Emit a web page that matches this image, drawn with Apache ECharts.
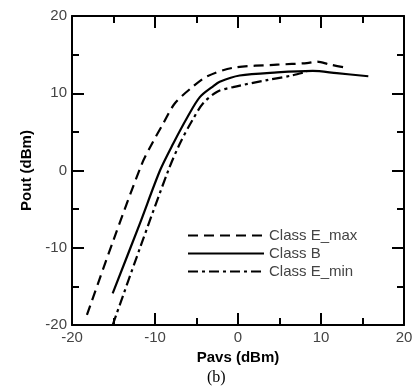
<!DOCTYPE html>
<html>
<head>
<meta charset="utf-8">
<script src="https://cdn.jsdelivr.net/npm/echarts@6/dist/echarts.min.js"></script>
<style>
  html, body { margin: 0; padding: 0; background: #fff; }
  #chart { width: 416px; height: 388px; }
</style>
</head>
<body>
<div id="chart"></div>
<script>
// Class E_max (dashed)
var emaxX = [-18.2, -15.0, -11.6, -10.3, -9.0, -7.6, -5.5, -3.7, -0.6, 4.7, 8.3, 9.5, 11.1, 13.1];
var emaxY = [-18.7, -9.0, 0.8, 3.6, 6.1, 8.7, 10.8, 12.2, 13.3, 13.7, 13.9, 14.1, 13.7, 13.3];
// Class B (solid)
var bX = [-15.1, -11.8, -9.4, -7.8, -6.1, -4.6, -3.0, -2.2, 0.2, 4.7, 9.0, 11.9, 15.7];
var bY = [-15.9, -6.8, 0.0, 3.5, 6.9, 9.5, 10.9, 11.5, 12.3, 12.7, 12.9, 12.6, 12.2];
// Class E_min (dash-dot)
var eminX = [-15.1, -11.8, -8.4, -7.0, -5.5, -4.2, -2.5, -0.6, 3.5, 6.5, 8.3];
var eminY = [-20.0, -10.0, 0.0, 3.5, 6.5, 8.7, 10.2, 10.8, 11.7, 12.3, 12.8];

var names = ['Class E_max', 'Class B', 'Class E_min'];

function pairs(xs, ys) {
  var out = [];
  for (var i = 0; i < xs.length; i++) out.push([xs[i], ys[i]]);
  return out;
}

var chart = echarts.init(document.getElementById('chart'));

var tickStyle = { color: '#000', width: 2 };
function axisBase(extra) {
  var a = {
    type: 'value', min: -20, max: 20, interval: 10,
    axisLine: { show: true, onZero: false, lineStyle: { color: '#000', width: 2 } },
    axisTick: { show: true, inside: true, length: 12, lineStyle: tickStyle },
    minorTick: { show: true, splitNumber: 2, length: 7, lineStyle: tickStyle },
    splitLine: { show: false },
    axisLabel: { color: '#444', fontSize: 15, fontFamily: 'Liberation Sans', margin: 5 }
  };
  for (var k in extra) a[k] = extra[k];
  return a;
}

var option = {
  animation: false,
  grid: { left: 72, right: 12, top: 16, bottom: 63 },
  title: {
    text: '(b)', left: 202, top: 365,
    textStyle: { fontFamily: 'Liberation Serif', fontWeight: 'normal', fontSize: 16, color: '#000' }
  },
  legend: {
    orient: 'vertical', left: 182, top: 223, itemGap: 3,
    itemWidth: 76, itemHeight: 14,
    data: names,
    itemStyle: { color: 'rgba(0,0,0,0)', borderWidth: 0 },
    textStyle: { color: '#444', fontSize: 15, fontFamily: 'Liberation Sans' }
  },
  xAxis: [
    axisBase({
      position: 'bottom',
      name: 'Pavs (dBm)', nameLocation: 'middle', nameGap: 19,
      nameTextStyle: { fontWeight: 'bold', fontSize: 15, color: '#000', fontFamily: 'Liberation Sans' }
    }),
    axisBase({ position: 'top', axisLabel: { show: false } })
  ],
  yAxis: [
    axisBase({
      position: 'left',
      name: 'Pout (dBm)', nameLocation: 'middle', nameGap: 38,
      nameTextStyle: { fontWeight: 'bold', fontSize: 15, color: '#000', fontFamily: 'Liberation Sans' }
    }),
    axisBase({ position: 'right', axisLabel: { show: false } })
  ],
  series: [
    {
      name: names[0], type: 'line', smooth: 0.3, symbol: 'none',
      data: pairs(emaxX, emaxY),
      lineStyle: { color: '#000', width: 2.2, type: [10, 6] }
    },
    {
      name: names[1], type: 'line', smooth: 0.3, symbol: 'none',
      data: pairs(bX, bY),
      lineStyle: { color: '#000', width: 2.2, type: 'solid' }
    },
    {
      name: names[2], type: 'line', smooth: 0.3, symbol: 'none',
      data: pairs(eminX, eminY),
      lineStyle: { color: '#000', width: 2.2, type: [10, 4, 3, 4] }
    }
  ]
};

chart.setOption(option);
</script>
</body>
</html>
